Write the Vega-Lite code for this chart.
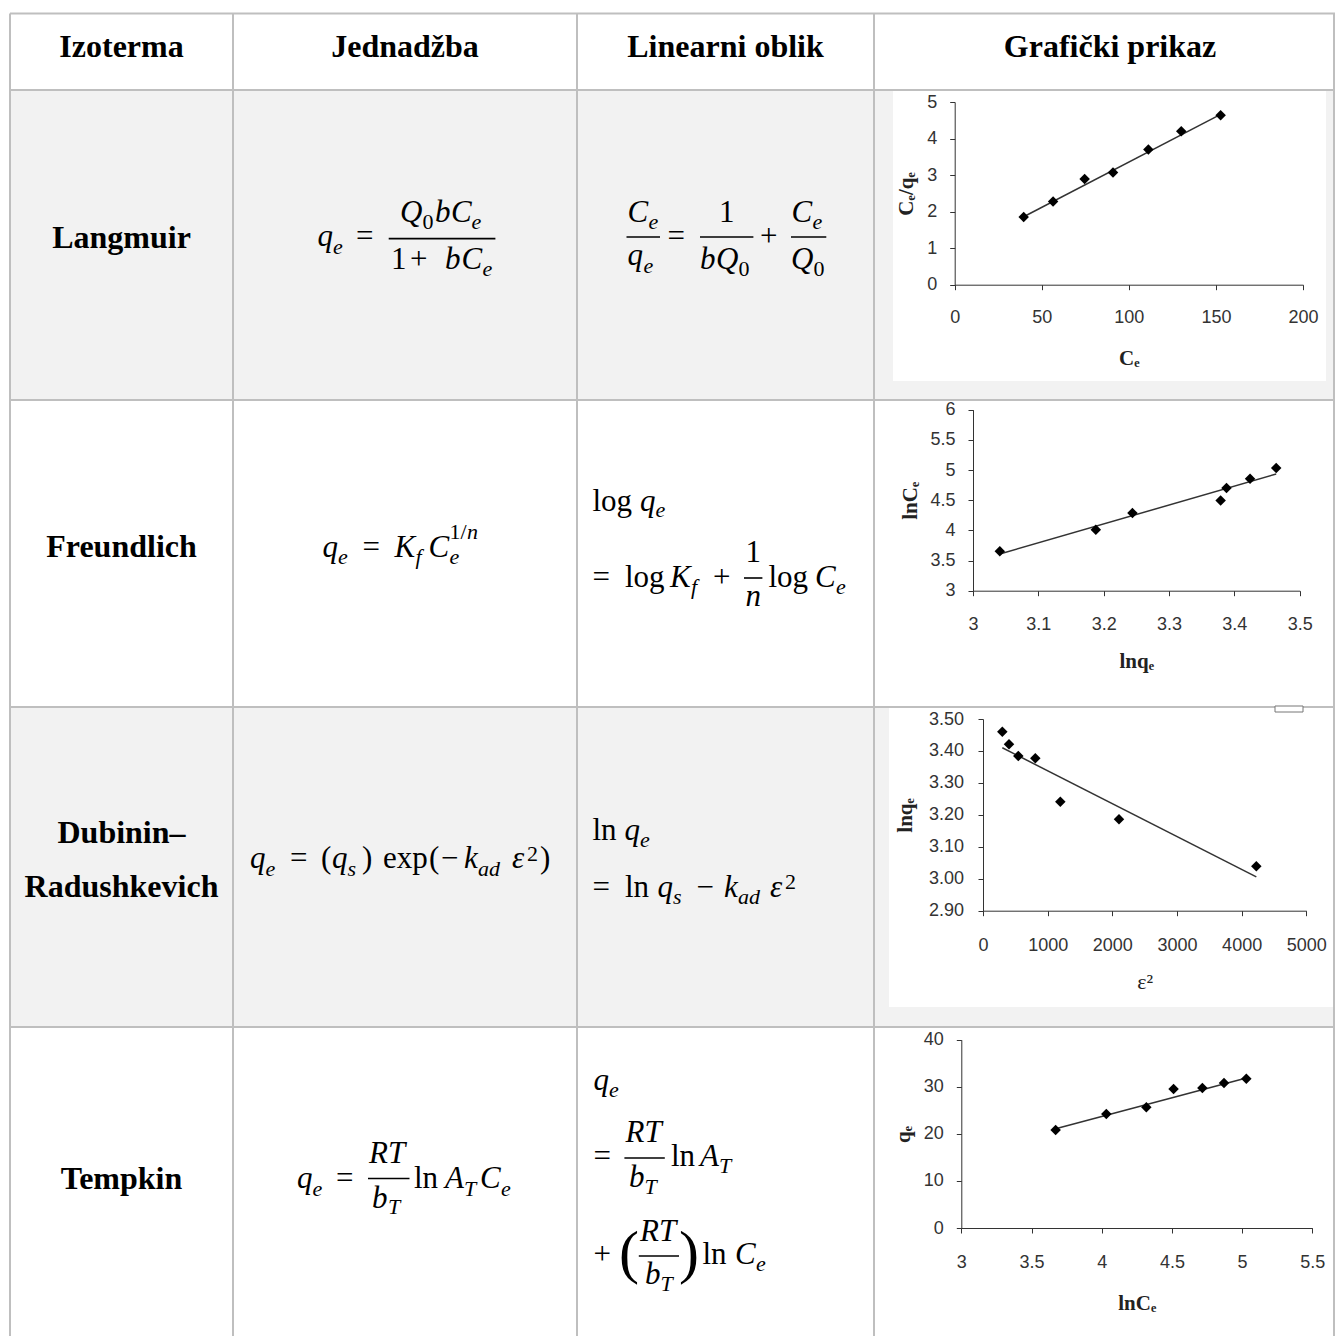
{
  "$schema": "https://vega.github.io/schema/vega-lite/v6.json",
  "width": 1335,
  "height": 1336,
  "padding": 0,
  "autosize": {"type": "none"},
  "background": "white",
  "config": {
    "view": {"stroke": null},
    "axis": {
      "grid": false,
      "domainColor": "#333",
      "domainWidth": 1,
      "tickColor": "#333",
      "tickSize": 5,
      "labelColor": "#333",
      "labelFont": "Liberation Sans",
      "labelFontSize": 18,
      "labelFlush": false,
      "labelOverlap": false,
      "titleFont": "Liberation Serif",
      "titleFontSize": 21,
      "titleFontWeight": "bold",
      "titleColor": "#222"
    }
  },
  "datasets": {
    "rows": [
      {"x1": 10, "x2": 1335, "y1": 90, "y2": 400},
      {"x1": 10, "x2": 1335, "y1": 707, "y2": 1027}
    ],
    "imgs": [
      {"x1": 893, "x2": 1326, "y1": 91, "y2": 381},
      {"x1": 889, "x2": 1334, "y1": 708, "y2": 1007}
    ],
    "boxes": [
      {"x1": 1275, "x2": 1303, "y1": 706, "y2": 712}
    ],
    "grid": [
      {"x1": 10, "x2": 1335, "y1": 13.5, "y2": 13.5},
      {"x1": 10, "x2": 1335, "y1": 90, "y2": 90},
      {"x1": 10, "x2": 1335, "y1": 400, "y2": 400},
      {"x1": 10, "x2": 1335, "y1": 707, "y2": 707},
      {"x1": 10, "x2": 1335, "y1": 1027, "y2": 1027},
      {"x1": 10, "x2": 10, "y1": 13.5, "y2": 1336},
      {"x1": 233, "x2": 233, "y1": 13.5, "y2": 1336},
      {"x1": 577, "x2": 577, "y1": 13.5, "y2": 1336},
      {"x1": 874, "x2": 874, "y1": 13.5, "y2": 1336},
      {"x1": 1334, "x2": 1334, "y1": 13.5, "y2": 1336}
    ],
    "bars": [
      {"x1": 388.7, "x2": 495.4, "y": 238.6},
      {"x1": 626.5, "x2": 660, "y": 237},
      {"x1": 700, "x2": 753.4, "y": 237},
      {"x1": 791, "x2": 826.3, "y": 237},
      {"x1": 744, "x2": 762.4, "y": 578},
      {"x1": 368, "x2": 409.5, "y": 1178.5},
      {"x1": 624.4, "x2": 664.8, "y": 1158},
      {"x1": 638.8, "x2": 679, "y": 1256}
    ],
    "txt": [
      {"x": 121.5, "y": 57, "t": "Izoterma", "r": "h"},
      {"x": 405, "y": 57, "t": "Jednadžba", "r": "h"},
      {"x": 725.5, "y": 57, "t": "Linearni oblik", "r": "h"},
      {"x": 1110, "y": 57, "t": "Grafički prikaz", "r": "h"},
      {"x": 121.5, "y": 248, "t": "Langmuir", "r": "h"},
      {"x": 121.5, "y": 557, "t": "Freundlich", "r": "h"},
      {"x": 121.5, "y": 843, "t": "Dubinin–", "r": "h"},
      {"x": 121.5, "y": 897, "t": "Radushkevich", "r": "h"},
      {"x": 121.5, "y": 1189, "t": "Tempkin", "r": "h"},

      {"x": 317.5, "y": 246, "t": "q", "r": "i"},
      {"x": 333, "y": 253.5, "t": "e", "r": "si"},
      {"x": 356, "y": 246, "t": "=", "r": "u"},
      {"x": 400, "y": 221.5, "t": "Q", "r": "i"},
      {"x": 422.5, "y": 229, "t": "0", "r": "su"},
      {"x": 435, "y": 221.5, "t": "b", "r": "i"},
      {"x": 451, "y": 221.5, "t": "C", "r": "i"},
      {"x": 471.5, "y": 229, "t": "e", "r": "si"},
      {"x": 391, "y": 268.5, "t": "1", "r": "u"},
      {"x": 410, "y": 268.5, "t": "+", "r": "u"},
      {"x": 445, "y": 268.5, "t": "b", "r": "i"},
      {"x": 461.5, "y": 268.5, "t": "C", "r": "i"},
      {"x": 482.5, "y": 276, "t": "e", "r": "si"},

      {"x": 627.5, "y": 221.5, "t": "C", "r": "i"},
      {"x": 648.5, "y": 228.5, "t": "e", "r": "si"},
      {"x": 627.5, "y": 265, "t": "q", "r": "i"},
      {"x": 643.5, "y": 272.5, "t": "e", "r": "si"},
      {"x": 667.5, "y": 246, "t": "=", "r": "u"},
      {"x": 719, "y": 221.5, "t": "1", "r": "u"},
      {"x": 700, "y": 268.5, "t": "b", "r": "i"},
      {"x": 716, "y": 268.5, "t": "Q", "r": "i"},
      {"x": 738.5, "y": 276, "t": "0", "r": "su"},
      {"x": 760, "y": 246, "t": "+", "r": "u"},
      {"x": 791.5, "y": 221.5, "t": "C", "r": "i"},
      {"x": 812.5, "y": 228.5, "t": "e", "r": "si"},
      {"x": 791, "y": 268.5, "t": "Q", "r": "i"},
      {"x": 813.5, "y": 276, "t": "0", "r": "su"},

      {"x": 322.5, "y": 556.5, "t": "q", "r": "i"},
      {"x": 338, "y": 563.5, "t": "e", "r": "si"},
      {"x": 362.5, "y": 556.5, "t": "=", "r": "u"},
      {"x": 394.5, "y": 556.5, "t": "K", "r": "i"},
      {"x": 415.5, "y": 563.5, "t": "f", "r": "si"},
      {"x": 428.5, "y": 556.5, "t": "C", "r": "i"},
      {"x": 449.5, "y": 563.5, "t": "e", "r": "si"},
      {"x": 449.5, "y": 539, "t": "1/", "r": "su"},
      {"x": 467, "y": 539, "t": "n", "r": "si"},

      {"x": 592.5, "y": 511, "t": "log", "r": "u"},
      {"x": 640, "y": 511, "t": "q", "r": "i"},
      {"x": 655.5, "y": 517, "t": "e", "r": "si"},
      {"x": 592.5, "y": 587, "t": "=", "r": "u"},
      {"x": 625, "y": 587, "t": "log", "r": "u"},
      {"x": 670, "y": 587, "t": "K", "r": "i"},
      {"x": 691, "y": 594, "t": "f", "r": "si"},
      {"x": 713, "y": 587, "t": "+", "r": "u"},
      {"x": 745.5, "y": 561.5, "t": "1", "r": "u"},
      {"x": 745.5, "y": 606, "t": "n", "r": "i"},
      {"x": 768.5, "y": 587, "t": "log", "r": "u"},
      {"x": 815, "y": 587, "t": "C", "r": "i"},
      {"x": 836, "y": 594, "t": "e", "r": "si"},

      {"x": 250, "y": 868, "t": "q", "r": "i"},
      {"x": 265.5, "y": 875.5, "t": "e", "r": "si"},
      {"x": 290, "y": 868, "t": "=", "r": "u"},
      {"x": 321, "y": 868, "t": "(", "r": "u"},
      {"x": 332, "y": 868, "t": "q", "r": "i"},
      {"x": 347.5, "y": 875.5, "t": "s", "r": "si"},
      {"x": 362, "y": 868, "t": ")", "r": "u"},
      {"x": 383, "y": 868, "t": "exp", "r": "u"},
      {"x": 429, "y": 868, "t": "(", "r": "u"},
      {"x": 441, "y": 868, "t": "−", "r": "u"},
      {"x": 464, "y": 868, "t": "k", "r": "i"},
      {"x": 478, "y": 875.5, "t": "ad", "r": "si"},
      {"x": 512, "y": 868, "t": "ε", "r": "i"},
      {"x": 527, "y": 861, "t": "2", "r": "su"},
      {"x": 540, "y": 868, "t": ")", "r": "u"},

      {"x": 592.5, "y": 840, "t": "ln", "r": "u"},
      {"x": 624.5, "y": 840, "t": "q", "r": "i"},
      {"x": 640, "y": 846.5, "t": "e", "r": "si"},
      {"x": 592.5, "y": 897, "t": "=", "r": "u"},
      {"x": 625, "y": 897, "t": "ln", "r": "u"},
      {"x": 657.5, "y": 897, "t": "q", "r": "i"},
      {"x": 673, "y": 904, "t": "s", "r": "si"},
      {"x": 696.5, "y": 897, "t": "−", "r": "u"},
      {"x": 724, "y": 897, "t": "k", "r": "i"},
      {"x": 738, "y": 904, "t": "ad", "r": "si"},
      {"x": 770, "y": 897, "t": "ε", "r": "i"},
      {"x": 785, "y": 889, "t": "2", "r": "su"},

      {"x": 297, "y": 1188, "t": "q", "r": "i"},
      {"x": 312.5, "y": 1195.5, "t": "e", "r": "si"},
      {"x": 336, "y": 1188, "t": "=", "r": "u"},
      {"x": 369, "y": 1163, "t": "RT", "r": "i"},
      {"x": 372, "y": 1207.5, "t": "b", "r": "i"},
      {"x": 388, "y": 1214, "t": "T", "r": "si"},
      {"x": 414, "y": 1188, "t": "ln", "r": "u"},
      {"x": 445, "y": 1188, "t": "A", "r": "i"},
      {"x": 464, "y": 1195.5, "t": "T", "r": "si"},
      {"x": 480, "y": 1188, "t": "C", "r": "i"},
      {"x": 501, "y": 1195.5, "t": "e", "r": "si"},

      {"x": 593.5, "y": 1090, "t": "q", "r": "i"},
      {"x": 609, "y": 1097, "t": "e", "r": "si"},
      {"x": 593.5, "y": 1166, "t": "=", "r": "u"},
      {"x": 625.5, "y": 1142, "t": "RT", "r": "i"},
      {"x": 629, "y": 1187, "t": "b", "r": "i"},
      {"x": 644.5, "y": 1194, "t": "T", "r": "si"},
      {"x": 671, "y": 1166, "t": "ln", "r": "u"},
      {"x": 700, "y": 1166, "t": "A", "r": "i"},
      {"x": 719, "y": 1173, "t": "T", "r": "si"},
      {"x": 593.5, "y": 1264, "t": "+", "r": "u"},
      {"x": 619, "y": 1272, "t": "(", "r": "big"},
      {"x": 679, "y": 1272, "t": ")", "r": "big"},
      {"x": 640, "y": 1241, "t": "RT", "r": "i"},
      {"x": 645, "y": 1284, "t": "b", "r": "i"},
      {"x": 660.5, "y": 1291, "t": "T", "r": "si"},
      {"x": 702.5, "y": 1264, "t": "ln", "r": "u"},
      {"x": 735, "y": 1264, "t": "C", "r": "i"},
      {"x": 756, "y": 1271, "t": "e", "r": "si"}
    ],
    "lang": [
      {"x": 39.6, "y": 1.85}, {"x": 56.5, "y": 2.28}, {"x": 74.6, "y": 2.89},
      {"x": 90.9, "y": 3.07}, {"x": 111.2, "y": 3.7}, {"x": 130.1, "y": 4.2},
      {"x": 152.7, "y": 4.64}
    ],
    "langFit": [{"x": 39.6, "y": 1.86}, {"x": 152.7, "y": 4.66}],
    "freu": [
      {"x": 3.041, "y": 3.652}, {"x": 3.188, "y": 4.011}, {"x": 3.244, "y": 4.287},
      {"x": 3.379, "y": 4.497}, {"x": 3.388, "y": 4.702}, {"x": 3.424, "y": 4.856},
      {"x": 3.464, "y": 5.033}
    ],
    "freuFit": [{"x": 3.041, "y": 3.608}, {"x": 3.464, "y": 4.934}],
    "dub": [
      {"x": 299, "y": 3.46}, {"x": 402, "y": 3.421}, {"x": 546, "y": 3.384},
      {"x": 809, "y": 3.377}, {"x": 1196, "y": 3.241}, {"x": 2103, "y": 3.186},
      {"x": 4227, "y": 3.039}
    ],
    "dubFit": [{"x": 299, "y": 3.41}, {"x": 4227, "y": 3.006}],
    "temp": [
      {"x": 3.672, "y": 20.81}, {"x": 4.033, "y": 24.21}, {"x": 4.318, "y": 25.63},
      {"x": 4.512, "y": 29.52}, {"x": 4.717, "y": 29.73}, {"x": 4.871, "y": 30.8},
      {"x": 5.03, "y": 31.72}
    ],
    "tempFit": [{"x": 3.672, "y": 21.1}, {"x": 5.03, "y": 31.86}]
  },
  "layer": [
    {
      "layer": [
        {
          "data": {"name": "rows"},
          "mark": {"type": "rect", "color": "#f2f2f2"},
          "encoding": {
            "x": {"field": "x1", "type": "quantitative", "scale": {"domain": [0, 1335], "range": [0, 1335], "nice": false, "zero": false}, "axis": null},
            "x2": {"field": "x2"},
            "y": {"field": "y1", "type": "quantitative", "scale": {"domain": [0, 1336], "range": [0, 1336], "nice": false, "zero": false}, "axis": null},
            "y2": {"field": "y2"}
          }
        },
        {
          "data": {"name": "imgs"},
          "mark": {"type": "rect", "color": "#ffffff"},
          "encoding": {
            "x": {"field": "x1", "type": "quantitative", "axis": null},
            "x2": {"field": "x2"},
            "y": {"field": "y1", "type": "quantitative", "axis": null},
            "y2": {"field": "y2"}
          }
        },
        {
          "data": {"name": "grid"},
          "mark": {"type": "rule", "color": "#bfbfbf", "strokeWidth": 2},
          "encoding": {
            "x": {"field": "x1", "type": "quantitative", "axis": null},
            "x2": {"field": "x2"},
            "y": {"field": "y1", "type": "quantitative", "axis": null},
            "y2": {"field": "y2"}
          }
        },
        {
          "data": {"name": "boxes"},
          "mark": {"type": "rect", "fill": "#ffffff", "stroke": "#777", "strokeWidth": 1},
          "encoding": {
            "x": {"field": "x1", "type": "quantitative", "axis": null},
            "x2": {"field": "x2"},
            "y": {"field": "y1", "type": "quantitative", "axis": null},
            "y2": {"field": "y2"}
          }
        },
        {
          "data": {"name": "bars"},
          "mark": {"type": "rule", "color": "#000", "strokeWidth": 1.6},
          "encoding": {
            "x": {"field": "x1", "type": "quantitative", "axis": null},
            "x2": {"field": "x2"},
            "y": {"field": "y", "type": "quantitative", "axis": null}
          }
        },
        {
          "data": {"name": "txt"},
          "transform": [{"filter": "datum.r === 'h'"}],
          "mark": {"type": "text", "font": "Liberation Serif", "fontWeight": "bold", "fontSize": 32, "align": "center", "baseline": "alphabetic", "color": "#000"},
          "encoding": {
            "x": {"field": "x", "type": "quantitative", "axis": null},
            "y": {"field": "y", "type": "quantitative", "axis": null},
            "text": {"field": "t"}
          }
        },
        {
          "data": {"name": "txt"},
          "transform": [{"filter": "datum.r === 'i'"}],
          "mark": {"type": "text", "font": "Liberation Serif", "fontStyle": "italic", "fontSize": 31, "align": "left", "baseline": "alphabetic", "color": "#000"},
          "encoding": {
            "x": {"field": "x", "type": "quantitative", "axis": null},
            "y": {"field": "y", "type": "quantitative", "axis": null},
            "text": {"field": "t"}
          }
        },
        {
          "data": {"name": "txt"},
          "transform": [{"filter": "datum.r === 'u'"}],
          "mark": {"type": "text", "font": "Liberation Serif", "fontSize": 31, "align": "left", "baseline": "alphabetic", "color": "#000"},
          "encoding": {
            "x": {"field": "x", "type": "quantitative", "axis": null},
            "y": {"field": "y", "type": "quantitative", "axis": null},
            "text": {"field": "t"}
          }
        },
        {
          "data": {"name": "txt"},
          "transform": [{"filter": "datum.r === 'si'"}],
          "mark": {"type": "text", "font": "Liberation Serif", "fontStyle": "italic", "fontSize": 22, "align": "left", "baseline": "alphabetic", "color": "#000"},
          "encoding": {
            "x": {"field": "x", "type": "quantitative", "axis": null},
            "y": {"field": "y", "type": "quantitative", "axis": null},
            "text": {"field": "t"}
          }
        },
        {
          "data": {"name": "txt"},
          "transform": [{"filter": "datum.r === 'su'"}],
          "mark": {"type": "text", "font": "Liberation Serif", "fontSize": 22, "align": "left", "baseline": "alphabetic", "color": "#000"},
          "encoding": {
            "x": {"field": "x", "type": "quantitative", "axis": null},
            "y": {"field": "y", "type": "quantitative", "axis": null},
            "text": {"field": "t"}
          }
        },
        {
          "data": {"name": "txt"},
          "transform": [{"filter": "datum.r === 'big'"}],
          "mark": {"type": "text", "font": "Liberation Serif", "fontSize": 60, "align": "left", "baseline": "alphabetic", "color": "#000"},
          "encoding": {
            "x": {"field": "x", "type": "quantitative", "axis": null},
            "y": {"field": "y", "type": "quantitative", "axis": null},
            "text": {"field": "t"}
          }
        }
      ]
    },
    {
      "layer": [
        {
          "data": {"name": "langFit"},
          "mark": {"type": "line", "color": "#333", "strokeWidth": 1.5},
          "encoding": {
            "x": {"field": "x", "type": "quantitative",
              "scale": {"domain": [0, 200], "range": [954.7, 1303], "nice": false, "zero": false},
              "axis": {"zindex": 1, "orient": "bottom", "offset": -1051.3, "values": [0, 50, 100, 150, 200], "format": "d", "title": "Cₑ", "titleY": 74, "titleBaseline": "middle", "labelPadding": 18.5}},
            "y": {"field": "y", "type": "quantitative",
              "scale": {"domain": [0, 5], "range": [284.7, 102], "nice": false, "zero": false},
              "axis": {"zindex": 1, "orient": "left", "offset": -954.7, "values": [0, 1, 2, 3, 4, 5], "format": "d", "title": "Cₑ/qₑ", "titleX": -48, "titleBaseline": "middle", "labelPadding": 13}}
          }
        },
        {
          "data": {"name": "lang"},
          "mark": {"type": "point", "shape": "diamond", "filled": true, "size": 110, "color": "#000", "opacity": 1},
          "encoding": {
            "x": {"field": "x", "type": "quantitative"},
            "y": {"field": "y", "type": "quantitative"}
          }
        }
      ]
    },
    {
      "layer": [
        {
          "data": {"name": "freuFit"},
          "mark": {"type": "line", "color": "#333", "strokeWidth": 1.5},
          "encoding": {
            "x": {"field": "x", "type": "quantitative",
              "scale": {"domain": [3, 3.5], "range": [973, 1299.7], "nice": false, "zero": false},
              "axis": {"zindex": 1, "orient": "bottom", "offset": -745.3, "values": [3, 3.1, 3.2, 3.3, 3.4, 3.5], "format": "~g", "title": "lnqₑ", "titleY": 70.5, "titleBaseline": "middle", "labelPadding": 19.5}},
            "y": {"field": "y", "type": "quantitative",
              "scale": {"domain": [3, 6], "range": [590.7, 409.7], "nice": false, "zero": false},
              "axis": {"zindex": 1, "orient": "left", "offset": -973, "values": [3, 3.5, 4, 4.5, 5, 5.5, 6], "format": "~g", "title": "lnCₑ", "titleX": -63, "titleBaseline": "middle", "labelPadding": 13}}
          }
        },
        {
          "data": {"name": "freu"},
          "mark": {"type": "point", "shape": "diamond", "filled": true, "size": 110, "color": "#000", "opacity": 1},
          "encoding": {
            "x": {"field": "x", "type": "quantitative"},
            "y": {"field": "y", "type": "quantitative"}
          }
        }
      ]
    },
    {
      "layer": [
        {
          "data": {"name": "dubFit"},
          "mark": {"type": "line", "color": "#333", "strokeWidth": 1.5},
          "encoding": {
            "x": {"field": "x", "type": "quantitative",
              "scale": {"domain": [0, 5000], "range": [983, 1306.3], "nice": false, "zero": false},
              "axis": {"zindex": 1, "orient": "bottom", "offset": -425.3, "values": [0, 1000, 2000, 3000, 4000, 5000], "format": "d", "title": "ε²", "titleY": 71, "titleBaseline": "middle", "titleFontWeight": "normal", "titleFontSize": 22, "labelPadding": 21}},
            "y": {"field": "y", "type": "quantitative",
              "scale": {"domain": [2.9, 3.5], "range": [910.7, 719], "nice": false, "zero": false},
              "axis": {"zindex": 1, "orient": "left", "offset": -983, "values": [2.9, 3.0, 3.1, 3.2, 3.3, 3.4, 3.5], "format": ".2f", "title": "lnqₑ", "titleX": -78, "titleBaseline": "middle", "labelPadding": 14.5}}
          }
        },
        {
          "data": {"name": "dub"},
          "mark": {"type": "point", "shape": "diamond", "filled": true, "size": 110, "color": "#000", "opacity": 1},
          "encoding": {
            "x": {"field": "x", "type": "quantitative"},
            "y": {"field": "y", "type": "quantitative"}
          }
        }
      ]
    },
    {
      "layer": [
        {
          "data": {"name": "tempFit"},
          "mark": {"type": "line", "color": "#333", "strokeWidth": 1.5},
          "encoding": {
            "x": {"field": "x", "type": "quantitative",
              "scale": {"domain": [3, 5.5], "range": [961.3, 1312.3], "nice": false, "zero": false},
              "axis": {"zindex": 1, "orient": "bottom", "offset": -108, "values": [3, 3.5, 4, 4.5, 5, 5.5], "format": "~g", "title": "lnCₑ", "titleY": 75, "titleBaseline": "middle", "labelPadding": 20}},
            "y": {"field": "y", "type": "quantitative",
              "scale": {"domain": [0, 40], "range": [1228, 1039.7], "nice": false, "zero": false},
              "axis": {"zindex": 1, "orient": "left", "offset": -961.3, "values": [0, 10, 20, 30, 40], "format": "d", "title": "qₑ", "titleX": -58, "titleBaseline": "middle", "labelPadding": 13}}
          }
        },
        {
          "data": {"name": "temp"},
          "mark": {"type": "point", "shape": "diamond", "filled": true, "size": 110, "color": "#000", "opacity": 1},
          "encoding": {
            "x": {"field": "x", "type": "quantitative"},
            "y": {"field": "y", "type": "quantitative"}
          }
        }
      ]
    }
  ],
  "resolve": {"scale": {"x": "independent", "y": "independent"}}
}
